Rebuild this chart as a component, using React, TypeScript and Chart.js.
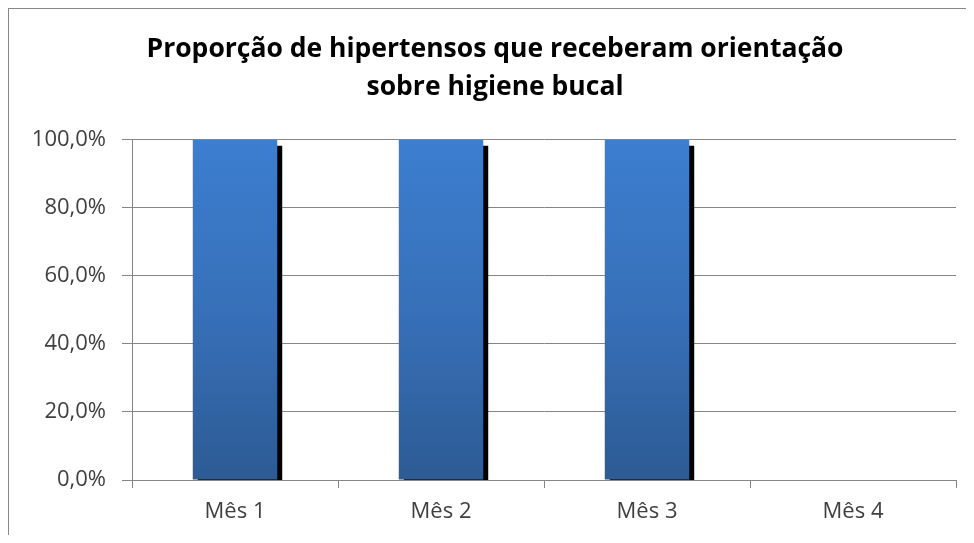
import React, { useEffect, useRef } from "react";
import { Chart, registerables } from "chart.js";

Chart.register(...registerables);

const categories = ["Mês 1", "Mês 2", "Mês 3", "Mês 4"];
const values = [100, 100, 100, 0];
const titleLines = ["Proporção de hipertensos que receberam orientação", "sobre higiene bucal"];

const shadowPlugin = {
  id: "barShadow",
  beforeDatasetDraw(chart: any) {
    const ctx = chart.ctx;
    ctx.save();
    ctx.shadowColor = "rgba(0,0,0,1)";
    ctx.shadowOffsetX = 5;
    ctx.shadowOffsetY = 6;
    ctx.shadowBlur = 0;
  },
  afterDatasetDraw(chart: any) {
    chart.ctx.restore();
  },
};

export default function App() {
  const ref = useRef<HTMLCanvasElement>(null);
  useEffect(() => {
    const chart = new Chart(ref.current!, {
      type: "bar",
      data: {
        labels: categories,
        datasets: [
          {
            data: values,
            backgroundColor: (c: any) => {
              const area = c.chart.chartArea;
              if (!area) return "#3A72BD";
              const g = c.chart.ctx.createLinearGradient(0, area.top, 0, area.bottom);
              g.addColorStop(0, "#3C7ED0");
              g.addColorStop(0.5, "#3770B9");
              g.addColorStop(1, "#2D5B94");
              return g;
            },
            borderWidth: 0,
            categoryPercentage: 1,
            barPercentage: 0.41,
          },
        ],
      },
      options: {
        animation: false,
        responsive: false,
        devicePixelRatio: 1,
        layout: { padding: { left: 25, right: 10, top: 0, bottom: 0 } },
        plugins: {
          legend: { display: false },
          tooltip: { enabled: false },
          title: {
            display: true,
            text: titleLines,
            color: "#000000",
            font: { family: "Open Sans", size: 26.5, weight: "bold", lineHeight: 1.43 },
            padding: { top: 22, bottom: 33 },
          },
        },
        scales: {
          x: {
            offset: true,
            grid: {
              offset: true,
              drawOnChartArea: false,
              drawTicks: true,
              tickLength: 8,
              color: "#868686",
            },
            border: { color: "#868686", width: 1 },
            ticks: {
              color: "#404040",
              font: { family: "Open Sans", size: 22 },
              padding: 11,
            },
            afterFit: (s: any) => {
              s.height = 55;
            },
          },
          y: {
            min: 0,
            max: 100,
            ticks: {
              stepSize: 20,
              color: "#404040",
              font: { family: "Open Sans", size: 22 },
              padding: 16,
              callback: (v: any) => Number(v).toFixed(1).replace(".", ",") + "%",
            },
            grid: { color: "#868686", tickLength: 10 },
            border: { color: "#868686", width: 1 },
            afterFit: (s: any) => {
              s.width = 98;
            },
          },
        },
      },
      plugins: [shadowPlugin],
    } as any);
    return () => chart.destroy();
  }, []);
  return (
    <div
      style={{
        width: 957,
        height: 526,
        borderTop: "1px solid #888",
        borderLeft: "1px solid #888",
        background: "#fff",
      }}
    >
      <canvas ref={ref} width={957} height={526} style={{ display: "block" }} />
    </div>
  );
}
